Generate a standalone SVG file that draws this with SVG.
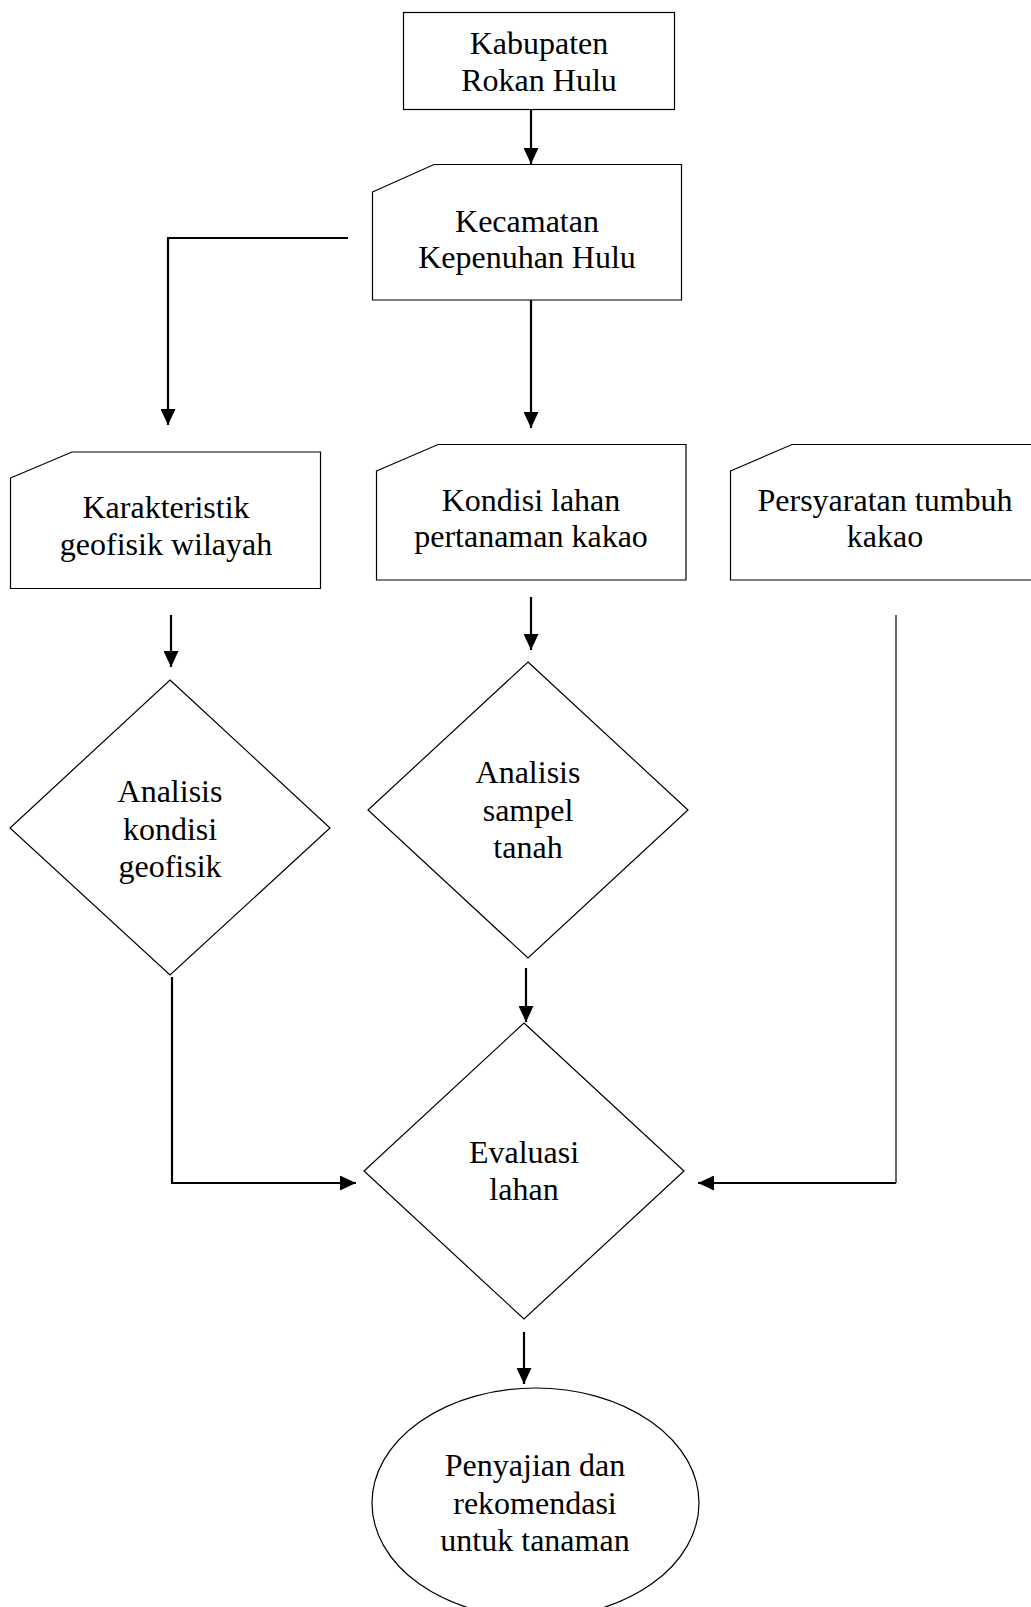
<svg xmlns="http://www.w3.org/2000/svg" width="1031" height="1607" viewBox="0 0 1031 1607">
  <style>
    .shape { fill: #ffffff; stroke: #000000; stroke-width: 1.2; }
    .lbl { font-family: "Liberation Serif", "Times New Roman", serif; font-size: 32px; fill: #000000; text-anchor: middle; }
    .conn { fill: none; stroke: #000000; stroke-width: 2.2; }
    .thin { stroke-width: 1.2; }
  </style>
  <defs>
    <marker id="arrow" markerUnits="userSpaceOnUse" markerWidth="16" markerHeight="15" refX="16" refY="7.5" orient="auto">
      <path d="M0,0 L16,7.5 L0,15 Z" fill="#000000"/>
    </marker>
  </defs>
  <rect width="1031" height="1607" fill="#ffffff"/>

  <g id="connectors">
    <line class="conn" x1="531" y1="109" x2="531" y2="164" marker-end="url(#arrow)"/>
    <line class="conn" x1="531" y1="300" x2="531" y2="428" marker-end="url(#arrow)"/>
    <polyline class="conn" points="348,238 168,238 168,425" marker-end="url(#arrow)"/>
    <line class="conn" x1="171" y1="615" x2="171" y2="667" marker-end="url(#arrow)"/>
    <line class="conn" x1="531" y1="597" x2="531" y2="650" marker-end="url(#arrow)"/>
    <line class="conn" x1="526" y1="968" x2="526" y2="1022" marker-end="url(#arrow)"/>
    <polyline class="conn" points="172,977 172,1183 356,1183" marker-end="url(#arrow)"/>
    <line class="conn thin" x1="896" y1="615" x2="896" y2="1183"/>
    <line class="conn" x1="896" y1="1183" x2="698" y2="1183" marker-end="url(#arrow)"/>
    <line class="conn" x1="524" y1="1332" x2="524" y2="1384" marker-end="url(#arrow)"/>
  </g>

  <g id="node-kabupaten">
    <rect class="shape" x="403.5" y="12.5" width="271" height="97"/>
    <text class="lbl" x="539" y="54">Kabupaten</text>
    <text class="lbl" x="539" y="91">Rokan Hulu</text>
  </g>

  <g id="node-kecamatan">
    <polygon class="shape" points="372.5,192 434,164.5 681.5,164.5 681.5,300 372.5,300"/>
    <text class="lbl" x="527" y="231.5">Kecamatan</text>
    <text class="lbl" x="527" y="268">Kepenuhan Hulu</text>
  </g>

  <g id="node-karakteristik">
    <polygon class="shape" points="10.5,478 72,452 320.5,452 320.5,588.5 10.5,588.5"/>
    <text class="lbl" x="166" y="518">Karakteristik</text>
    <text class="lbl" x="166" y="555">geofisik wilayah</text>
  </g>

  <g id="node-kondisi">
    <polygon class="shape" points="376.5,471 438,444.5 686,444.5 686,580 376.5,580"/>
    <text class="lbl" x="531" y="510.5">Kondisi lahan</text>
    <text class="lbl" x="531" y="546.5">pertanaman kakao</text>
  </g>

  <g id="node-persyaratan">
    <polygon class="shape" points="730.5,471 792,444.5 1040,444.5 1040,580 730.5,580"/>
    <text class="lbl" x="885" y="510.5">Persyaratan tumbuh</text>
    <text class="lbl" x="885" y="546.5">kakao</text>
  </g>

  <g id="node-analisis-geofisik">
    <polygon class="shape" points="170,680 330,828 170,975 10,828"/>
    <text class="lbl" x="170" y="801.5">Analisis</text>
    <text class="lbl" x="170" y="839.5">kondisi</text>
    <text class="lbl" x="170" y="876.5">geofisik</text>
  </g>

  <g id="node-analisis-sampel">
    <polygon class="shape" points="528,662 688,810 528,958 368,810"/>
    <text class="lbl" x="528" y="783">Analisis</text>
    <text class="lbl" x="528" y="820.5">sampel</text>
    <text class="lbl" x="528" y="858">tanah</text>
  </g>

  <g id="node-evaluasi">
    <polygon class="shape" points="524,1023 684,1171 524,1319 364,1171"/>
    <text class="lbl" x="524" y="1162.5">Evaluasi</text>
    <text class="lbl" x="524" y="1200">lahan</text>
  </g>

  <g id="node-penyajian">
    <ellipse class="shape" cx="535.5" cy="1503" rx="163.5" ry="115"/>
    <text class="lbl" x="535" y="1476">Penyajian dan</text>
    <text class="lbl" x="535" y="1513.5">rekomendasi</text>
    <text class="lbl" x="535" y="1551">untuk tanaman</text>
  </g>
</svg>
